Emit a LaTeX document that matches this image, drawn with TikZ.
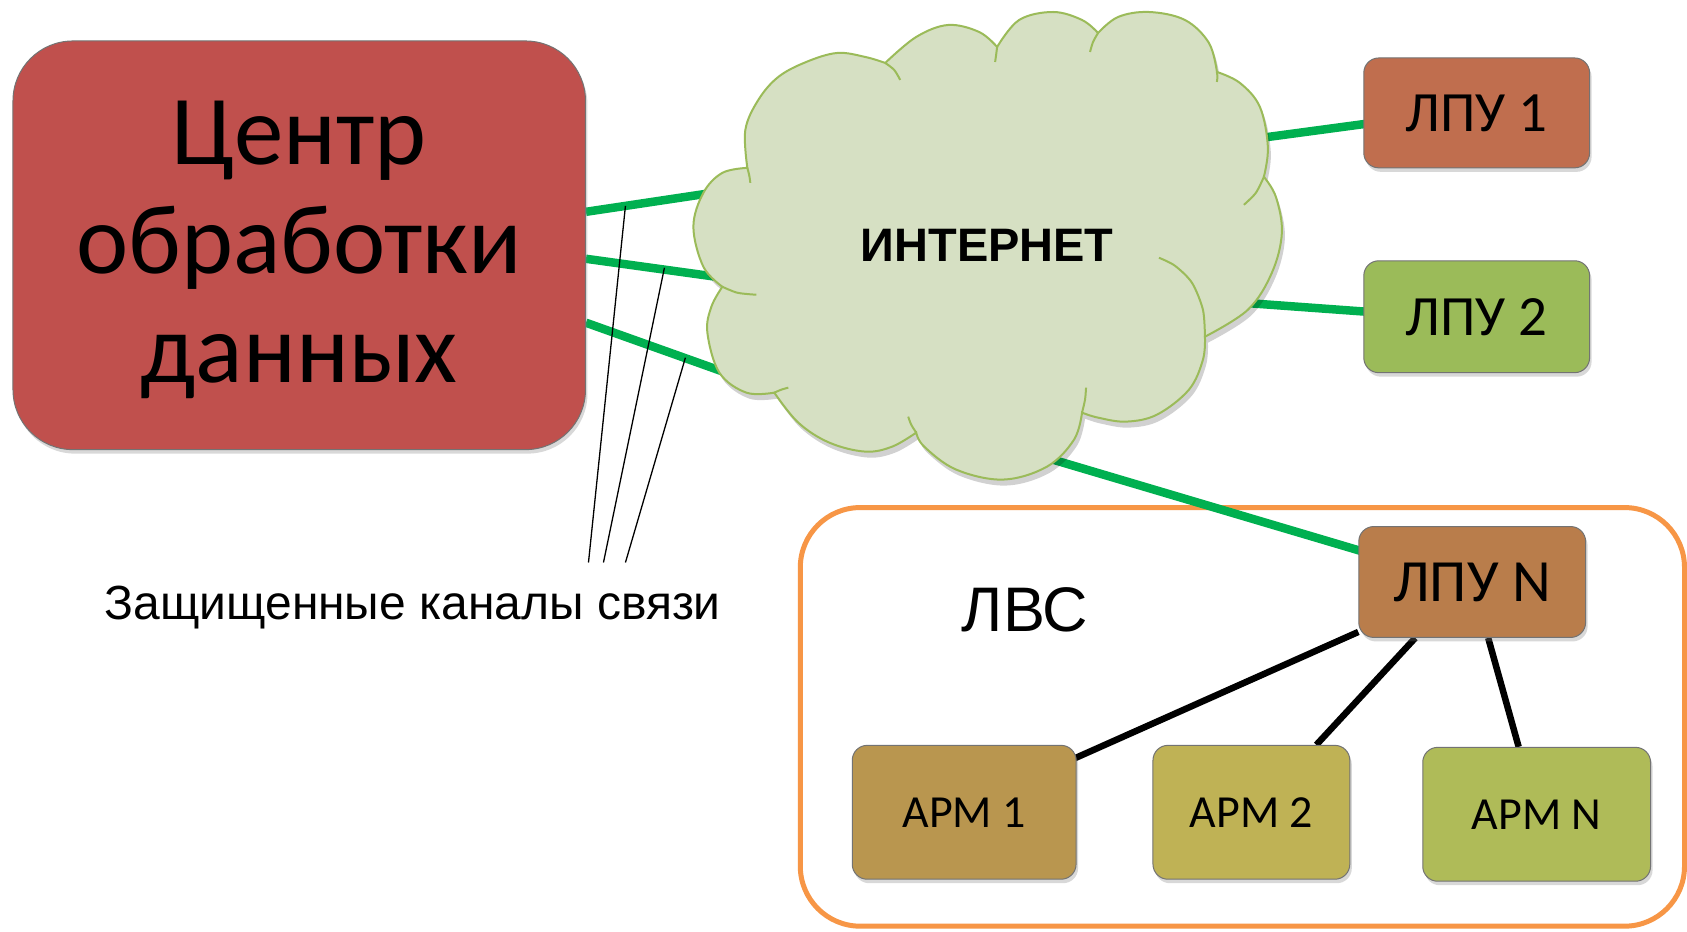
\documentclass[tikz,border=0pt]{standalone}
\usepackage{fontspec}
\setmainfont{Liberation Sans}
\newfontfamily\calfont{Carlito}
\newfontfamily\arifont{Liberation Sans}
\usetikzlibrary{shadows}
\pgfdeclarelayer{bg}
\pgfdeclarelayer{back}
\pgfsetlayers{bg,back,main}
\definecolor{ctrred}{HTML}{C0504D}
\definecolor{lpuone}{HTML}{C06E4E}
\definecolor{lputwo}{HTML}{9BBB59}
\definecolor{lpun}{HTML}{B97D4B}
\definecolor{armone}{HTML}{B9964F}
\definecolor{armtwo}{HTML}{BFB255}
\definecolor{armn}{HTML}{AFBB58}
\definecolor{lanorange}{HTML}{F79646}
\definecolor{lgreen}{HTML}{00B050}
\definecolor{cloudfill}{HTML}{D6E0C3}
\definecolor{cloudline}{HTML}{9BBB59}
\begin{document}
\begin{tikzpicture}[x=1pt,y=-1pt,
  box/.style={draw=black!55, line width=1pt, rounded corners=15pt, inner sep=0pt,
    font=\calfont\fontsize{57}{59}\selectfont,
    drop shadow={opacity=.3, shadow xshift=2pt, shadow yshift=-4pt}},
  armbox/.style={box, font=\calfont\fontsize{46}{48}\selectfont, minimum height=134pt},
  gline/.style={line width=8.5pt, draw=lgreen},
  bline/.style={line width=6.5pt, draw=black},
  tline/.style={line width=1.3pt, draw=black},
  cloudedge/.style={draw=cloudline, line width=2pt},
  cloudpath/.style={insert path={
    plot[smooth,tension=.6] coordinates {(748,168) (746,130) (759,100) (779,77) (807,62) (838,53) (866,57) (886,63)}
    -- plot[smooth,tension=.6] coordinates {(886,63) (917,37) (949,25) (980,32) (998,47)}
    -- plot[smooth,tension=.6] coordinates {(998,47) (1020,20) (1054,12) (1083,20) (1099,33)}
    -- plot[smooth,tension=.6] coordinates {(1099,33) (1119,17) (1150,12) (1186,20) (1210,43) (1218,72)}
    -- plot[smooth,tension=.6] coordinates {(1218,72) (1241,83) (1261,107) (1269,147) (1265,177)}
    -- plot[smooth,tension=.6] coordinates {(1265,177) (1277,197) (1283,233) (1273,273) (1249,310) (1206,337)}
    -- plot[smooth,tension=.6] coordinates {(1206,337) (1204,360) (1190,390) (1158,415) (1127,422) (1099,418) (1083,413)}
    -- plot[smooth,tension=.6] coordinates {(1083,413) (1075,440) (1048,467) (1004,480) (957,470) (925,447) (917,433)}
    -- plot[smooth,tension=.6] coordinates {(917,433) (893,447) (866,452) (830,443) (799,423) (775,393)}
    -- plot[smooth,tension=.6] coordinates {(775,393) (747,393) (720,373) (708,333) (712,307) (723,287)}
    -- plot[smooth,tension=.6] coordinates {(723,287) (704,267) (694,227) (704,193) (723,173) (748,168)}
    -- cycle}}
]
\begin{pgfonlayer}{bg}
\fill[white] (0,0) rectangle (1687,932);
% LAN frame
\node[draw=lanorange, line width=5pt, rounded corners=60pt, minimum width=885pt, minimum height=419pt, inner sep=0pt] (lan) at (1243.5,717.5) {};
\end{pgfonlayer}
\useasboundingbox (0,0) rectangle (1687,932);

\node[font=\arifont\fontsize{63}{65}\selectfont] (lvs) at (1026,610) {ЛВС};

% main data centre
\node[box, fill=ctrred, rounded corners=60pt, minimum width=573pt, minimum height=409pt] (ctr) at (299.5,245.5) {};
\node[align=center, inner sep=0pt, font=\calfont\fontsize{99}{109}\selectfont] (ctrtext) at ([yshift=-4.5pt]ctr.center) {Центр\\обработки\\данных};

% LPU and ARM boxes
\node[box, fill=lpuone, minimum width=226pt, minimum height=110pt] (l1) at (1478,113) {ЛПУ 1};
\node[box, fill=lputwo, minimum width=226pt, minimum height=112pt] (l2) at (1478,317) {ЛПУ 2};
\node[box, fill=lpun, font=\calfont\fontsize{60}{62}\selectfont, minimum width=227pt, minimum height=111pt] (ln) at (1473.5,582.5) {ЛПУ N};
\node[armbox, fill=armone, minimum width=224pt] (a1) at (965,813) {АРМ 1};
\node[armbox, fill=armtwo, minimum width=197pt] (a2) at (1252.5,813) {АРМ 2};
\node[armbox, fill=armn, minimum width=228pt] (an) at (1538,815) {АРМ N};

% connector end points hidden inside the cloud
\coordinate (c1) at (760,186);
\coordinate (c2) at (760,283);
\coordinate (c3) at (735,376);
\coordinate (c4) at (1240,141);
\coordinate (c5) at (1230,302);
\coordinate (c6) at (1020,450);

\begin{pgfonlayer}{back}
% green secure channels
\draw[gline] ([yshift=33.5pt]ctr.east) -- (c1);
\draw[gline] ([yshift=-13.5pt]ctr.east) -- (c2);
\draw[gline] ([yshift=-77.5pt]ctr.east) -- (c3);
\draw[gline] (c4) -- ([yshift=4pt]l1.center);
\draw[gline] (c5) -- ([yshift=-3pt]l2.center);
\draw[gline] (c6) -- ([yshift=-2pt]ln.center);
% LAN connectors
\draw[bline] ([yshift=6pt]ln.south west) -- ([xshift=-3pt,yshift=-14pt]a1.north east);
\draw[bline] ([xshift=-57pt]ln.south) -- ([xshift=65pt]a2.north);
\draw[bline] ([xshift=16pt]ln.south) -- ([xshift=-18pt]an.north);
% callout lines
\coordinate (k1) at (626,206); \coordinate (n1) at (589,563);
\coordinate (k2) at (665,268); \coordinate (n2) at (604,563);
\coordinate (k3) at (686,358); \coordinate (n3) at (626,563);
\draw[tline] (k1) -- (n1);
\draw[tline] (k2) -- (n2);
\draw[tline] (k3) -- (n3);
\end{pgfonlayer}

\node[font=\arifont\fontsize{48}{50}\selectfont, anchor=base] (note) at (413,620) {Защищенные каналы связи};

% cloud
\fill[black, opacity=.18, shift={(3,6)}, cloudpath];
\fill[cloudfill, cloudpath];
\draw[cloudedge, cloudpath];
\draw[cloudedge] plot[smooth] coordinates {(748,168) (750,176) (751,183)};
\draw[cloudedge] plot[smooth] coordinates {(886,63) (895,70) (901,80)};
\draw[cloudedge] plot[smooth] coordinates {(998,47) (997,55) (996,62)};
\draw[cloudedge] plot[smooth] coordinates {(1099,33) (1094,42) (1091,52)};
\draw[cloudedge] plot[smooth] coordinates {(1218,72) (1218.5,77) (1218,82)};
\draw[cloudedge] plot[smooth] coordinates {(1265,177) (1257,193) (1245,205)};
\draw[cloudedge] plot[smooth] coordinates {(1206,337) (1204,310) (1193,283) (1176,266) (1160,258)};
\draw[cloudedge] plot[smooth] coordinates {(1083,413) (1086,400) (1087,388)};
\draw[cloudedge] plot[smooth] coordinates {(917,433) (912,425) (909,417)};
\draw[cloudedge] plot[smooth] coordinates {(775,393) (782,390) (789,388)};
\draw[cloudedge] plot[smooth] coordinates {(723,287) (738,293) (757,295)};
\node[font=\arifont\bfseries\fontsize{47}{50}\selectfont] (inet) at (988,246) {ИНТЕРНЕТ};
\end{tikzpicture}
\end{document}
